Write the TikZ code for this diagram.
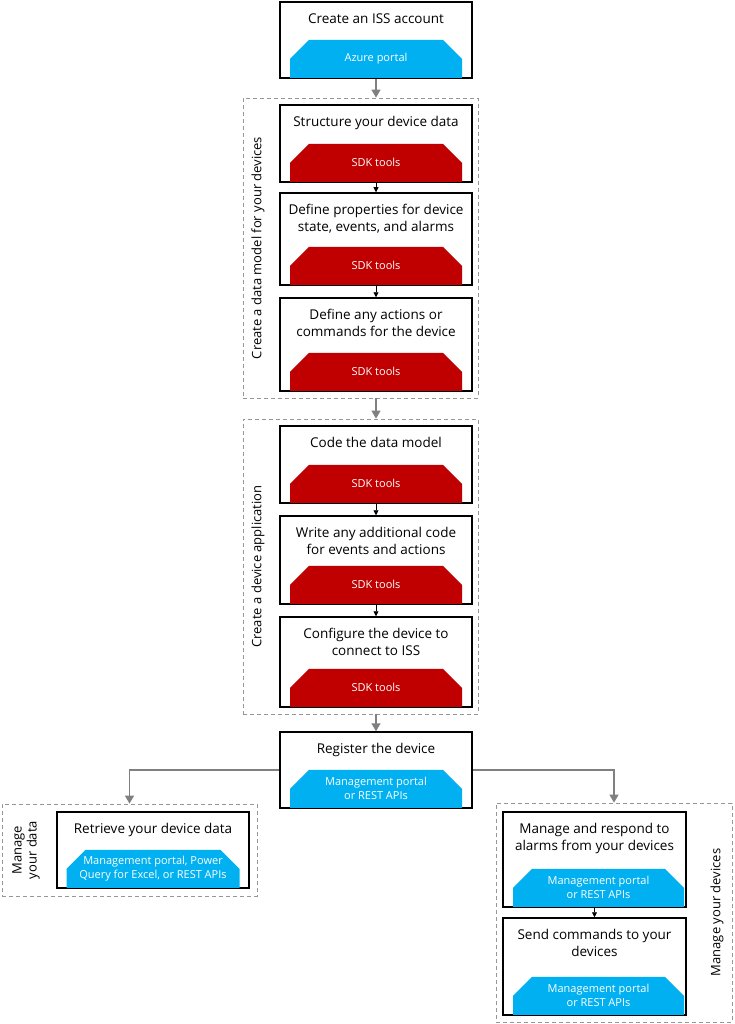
\documentclass[tikz,border=0pt]{standalone}
\usepackage{fontspec}
\setmainfont{Open Sans}
\usetikzlibrary{shapes.misc, arrows.meta}
\definecolor{tabblue}{RGB}{0,176,240}
\definecolor{tabred}{RGB}{192,0,0}
\definecolor{linegray}{RGB}{128,128,128}
\definecolor{dashgray}{RGB}{150,150,150}
\tikzset{
  stepbox/.style = {rectangle, draw=black, line width=1.5pt, minimum width=192pt, inner sep=0pt},
  steptitle/.style = {anchor=north, align=center, inner sep=0pt, font=\fontsize{13.5}{17}\selectfont},
  tabtext/.style = {align=center, inner sep=0pt, text=white, font=\fontsize{11}{14}\selectfont},
  tabshape/.style = {chamfered rectangle, chamfered rectangle corners={north west,north east}, chamfered rectangle xsep=14pt, chamfered rectangle ysep=15pt, text width=164pt, text height=8pt, text depth=0pt, inner sep=0pt, anchor=south, label={[tabtext]center:{#1}}},
  sdktab/.style = {tabshape={SDK tools}, fill=tabred},
  mgmttab/.style = {tabshape={#1}, fill=tabblue},
  groupbox/.style = {rectangle, draw=dashgray, line width=0.8pt, dash pattern=on 4pt off 3pt, inner sep=0pt},
  grouplabel/.style = {rotate=90, align=center, font=\fontsize{13}{15}\selectfont},
  flow/.style = {draw=linegray, line width=1.5pt, -{Triangle[length=8pt,width=9pt]}},
  nextstep/.style = {draw=black, line width=0.8pt, -{Triangle[length=5pt,width=5pt]}}
}

\begin{document}
\begin{tikzpicture}[x=1pt, y=-1pt]
    \useasboundingbox (0,0) rectangle (734,1024);

    % groups
    \node[groupbox, minimum width=235pt, minimum height=300pt] (model) at (360.5,248) {};
    \node[groupbox, minimum width=235pt, minimum height=295pt] (app) at (360.5,566.5) {};
    \node[groupbox, minimum width=255pt, minimum height=92pt] (data) at (129.5,850) {};
    \node[groupbox, minimum width=236pt, minimum height=219pt] (devices) at (614,912.5) {};
    \node[grouplabel] (model-l) at (258,248) {Create a data model for your devices};
    \node[grouplabel] (app-l) at (258,566.5) {Create a device application};
    \node[grouplabel] (data-l) at (26,850) {Manage\\your data};
    \node[grouplabel] (devices-l) at (717,912.5) {Manage your devices};

    % steps
    \node[stepbox, minimum height=76pt] (acct) at (376,40) {};
    \node[steptitle] (acct-t) at ([yshift=-12pt]acct.north) {Create an ISS account};
    \node[mgmttab={Azure portal}] (acct-tab) at ([yshift=0.75pt]acct.south) {};

    \node[stepbox, minimum height=77pt] (struct) at (376,143.5) {};
    \node[steptitle] (struct-t) at ([yshift=-12pt]struct.north) {Structure your device data};
    \node[sdktab] (struct-tab) at ([yshift=0.75pt]struct.south) {};

    \node[stepbox, minimum height=92pt] (props) at (376,239) {};
    \node[steptitle] (props-t) at ([yshift=-12pt]props.north) {Define properties for device\\state, events, and alarms};
    \node[sdktab] (props-tab) at ([yshift=0.75pt]props.south) {};

    \node[stepbox, minimum height=93pt] (actions) at (376,344.5) {};
    \node[steptitle] (actions-t) at ([yshift=-12pt]actions.north) {Define any actions or\\commands for the device};
    \node[sdktab] (actions-tab) at ([yshift=0.75pt]actions.south) {};

    \node[stepbox, minimum height=77pt] (code) at (376,464.5) {};
    \node[steptitle] (code-t) at ([yshift=-12pt]code.north) {Code the data model};
    \node[sdktab] (code-tab) at ([yshift=0.75pt]code.south) {};

    \node[stepbox, minimum height=88pt] (extra) at (376,560) {};
    \node[steptitle] (extra-t) at ([yshift=-12pt]extra.north) {Write any additional code\\for events and actions};
    \node[sdktab] (extra-tab) at ([yshift=0.75pt]extra.south) {};

    \node[stepbox, minimum height=90pt] (config) at (376,662) {};
    \node[steptitle] (config-t) at ([yshift=-12pt]config.north) {Configure the device to\\connect to ISS};
    \node[sdktab] (config-tab) at ([yshift=0.75pt]config.south) {};

    \node[stepbox, minimum height=76pt] (register) at (376,770) {};
    \node[steptitle] (register-t) at ([yshift=-12pt]register.north) {Register the device};
    \node[mgmttab={Management portal\\or REST APIs}] (register-tab) at ([yshift=0.75pt]register.south) {};

    \node[stepbox, minimum height=76pt] (retrieve) at (153,850) {};
    \node[steptitle] (retrieve-t) at ([yshift=-12pt]retrieve.north) {Retrieve your device data};
    \node[mgmttab={Management portal, Power\\Query for Excel, or REST APIs}, text width=165pt] (retrieve-tab) at ([yshift=0.75pt]retrieve.south) {};

    \node[stepbox, minimum width=183pt, minimum height=95pt] (alarms) at (594.5,859.5) {};
    \node[steptitle] (alarms-t) at ([yshift=-12pt]alarms.north) {Manage and respond to\\alarms from your devices};
    \node[mgmttab={Management portal\\or REST APIs}, text width=163pt] (alarms-tab) at ([xshift=4pt, yshift=0.75pt]alarms.south) {};

    \node[stepbox, minimum width=183pt, minimum height=97pt] (commands) at (594.5,966.5) {};
    \node[steptitle] (commands-t) at ([yshift=-12pt]commands.north) {Send commands to your\\devices};
    \node[mgmttab={Management portal\\or REST APIs}, text width=163pt] (commands-tab) at ([xshift=4pt, yshift=0.75pt]commands.south) {};

    % connectors
    \draw[flow] (acct.south) -- (acct.south |- model.north);
    \draw[flow] (model.south -| actions.south) -- (app.north -| code.north);
    \draw[flow] (app.south -| config.south) -- (register.north);
    \draw[flow] (register.west) -| (data.north);
    \draw[flow] (register.east) -| (devices.north);

    \draw[nextstep] (struct.south) -- (props.north);
    \draw[nextstep] (props.south) -- (actions.north);
    \draw[nextstep] (code.south) -- (extra.north);
    \draw[nextstep] (extra.south) -- (config.north);
    \draw[nextstep] (alarms.south) -- (commands.north);
\end{tikzpicture}
\end{document}
